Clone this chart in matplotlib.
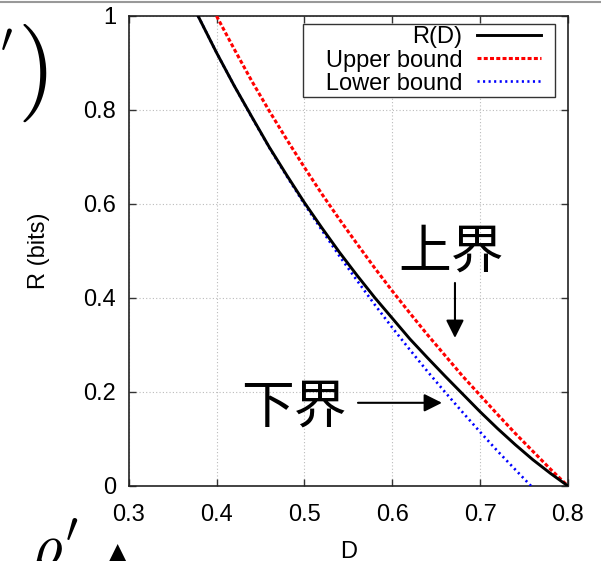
import matplotlib
matplotlib.use('Agg')
import matplotlib.pyplot as plt
from matplotlib.lines import Line2D
from matplotlib.legend_handler import HandlerLine2D

plt.rcParams['font.family'] = ['Liberation Sans', 'DejaVu Sans']

# values
d_rd = [0.379, 0.40, 0.42, 0.44, 0.46, 0.48, 0.50, 0.52, 0.54, 0.56, 0.58, 0.60,
        0.62, 0.64, 0.66, 0.68, 0.70, 0.72, 0.74, 0.76, 0.78, 0.80]
r_rd = [1.0, 0.922, 0.852, 0.786, 0.721, 0.661, 0.603, 0.549, 0.497, 0.448, 0.401, 0.357,
        0.313, 0.273, 0.234, 0.196, 0.158, 0.122, 0.088, 0.056, 0.027, 0.0]

d_up = [0.40, 0.42, 0.44, 0.46, 0.48, 0.50, 0.52, 0.54, 0.56, 0.58, 0.60,
        0.62, 0.64, 0.66, 0.68, 0.70, 0.72, 0.74, 0.76, 0.78, 0.80]
r_up = [1.0, 0.930, 0.862, 0.798, 0.737, 0.678, 0.621, 0.567, 0.515, 0.464, 0.415,
        0.368, 0.322, 0.278, 0.234, 0.193, 0.152, 0.112, 0.074, 0.036, 0.0]

d_lo = [0.379, 0.40, 0.42, 0.44, 0.46, 0.48, 0.50, 0.52, 0.54, 0.56, 0.58, 0.60,
        0.62, 0.64, 0.66, 0.68, 0.70, 0.72, 0.74, 0.758]
r_lo = [1.0, 0.922, 0.852, 0.785, 0.720, 0.659, 0.600, 0.544, 0.489, 0.437, 0.386, 0.337,
        0.290, 0.244, 0.200, 0.157, 0.115, 0.074, 0.035, 0.0]

xticks = [0.3, 0.4, 0.5, 0.6, 0.7, 0.8]
yticks = [0, 0.2, 0.4, 0.6, 0.8, 1]


class GapLine(HandlerLine2D):
    # legend sample that leaves some room before the frame edge (gnuplot look)
    def create_artists(self, legend, orig_handle, xdescent, ydescent, width, height,
                       fontsize, trans):
        return super().create_artists(legend, orig_handle, xdescent, ydescent,
                                      width - 8.6, height, fontsize, trans)


fig = plt.figure(figsize=(6.01, 5.61), dpi=100)
ax = fig.add_axes([0.2141, 0.1337, 0.7309, 0.8378])

ax.plot(d_rd, r_rd, color='black', lw=2.1, label='R(D)', zorder=4)
ax.plot(d_up, r_up, color='#ff0000', lw=2.2, ls=(0, (1.3, 0.75)), label='   Upper bound', zorder=3)
ax.plot(d_lo, r_lo, color='#0000ff', lw=1.9, ls=(0, (0.8, 1.3)), label='   Lower bound', zorder=3)

ax.set_xlim(0.3, 0.8)
ax.set_ylim(0, 1)
ax.set_xticks(xticks)
ax.set_xticklabels(['0.3', '0.4', '0.5', '0.6', '0.7', '0.8'])
ax.set_yticks(yticks)
ax.set_yticklabels(['0', '0.2', '0.4', '0.6', '0.8', '1'])
ax.tick_params(direction='in', length=5, width=1, top=True, right=True,
               labelsize=17, pad=9, color='#333333')
ax.tick_params(axis='x', pad=13)
ax.grid(True, color='#bbbbbb', ls=(0, (1, 2)), lw=0.8)
for s in ax.spines.values():
    s.set_color('#222222')
    s.set_linewidth(1.2)

ax.set_xlabel('D', fontsize=17, labelpad=11)
ax.set_ylabel('R (bits)', fontsize=17, labelpad=24)

leg = ax.legend(loc='upper right', bbox_to_anchor=(0.9704, 0.983), borderaxespad=0,
                markerfirst=False, fontsize=17, handlelength=3.18, handletextpad=0.64,
                labelspacing=0.05, borderpad=0.1, fancybox=False, framealpha=1,
                edgecolor='#333333', handler_map={Line2D: GapLine()})
leg.get_frame().set_linewidth(1.0)

cjk = ['Noto Sans CJK SC', 'DejaVu Sans']
ax.text(0.667, 0.498, '上界', fontsize=38, family=cjk, ha='center', va='center')
ax.text(0.488, 0.168, '下界', fontsize=38, family=cjk, ha='center', va='center')
arrow = dict(arrowstyle='-|>,head_length=0.4,head_width=0.2', mutation_scale=27,
             lw=1.5, color='black', shrinkA=0, shrinkB=0)
ax.annotate('', xy=(0.6714, 0.315), xytext=(0.6714, 0.432), arrowprops=arrow)
ax.annotate('', xy=(0.6566, 0.177), xytext=(0.561, 0.177), arrowprops=arrow)

# bits of the neighbouring slide that were cropped in
fig.add_artist(Line2D([0, 1], [0.997, 0.997], color='#999999', lw=1.5))
fig.text(0.054, 0.87, '$)$', fontsize=70, math_fontfamily='cm', ha='center', va='center')
fig.text(0.01, 0.93, "$\\prime$", fontsize=30, math_fontfamily='cm', ha='center', va='center')
fig.text(0.09, -0.035, r"$\rho'$", fontsize=44, math_fontfamily='cm', ha='center', va='bottom')
fig.text(0.195, -0.012, '▲', fontsize=20, family='DejaVu Sans', ha='center', va='bottom')

fig.savefig('out.png', dpi=100)
